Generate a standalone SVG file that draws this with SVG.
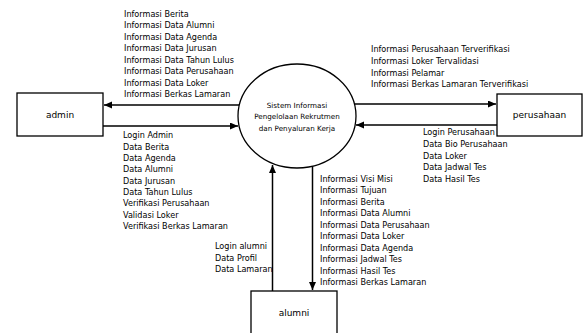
<svg xmlns="http://www.w3.org/2000/svg" width="583" height="333" viewBox="0 0 583 333">
<style>
.box{fill:#fff;stroke:#000;stroke-width:1.3}
.lbl{font-family:"DejaVu Sans",Verdana,sans-serif;font-size:8.1px;fill:#000}
.ctr{font-family:"DejaVu Sans",Verdana,sans-serif;font-size:9px;fill:#000;text-anchor:middle}
.proc{font-family:"DejaVu Sans",Verdana,sans-serif;font-size:7.2px;fill:#000;text-anchor:middle}
.edge{fill:none;stroke:#000;stroke-width:1.5}
</style>
<defs>
<marker id="arr" markerUnits="userSpaceOnUse" markerWidth="9" markerHeight="8" refX="8" refY="3.5" orient="auto">
<path d="M0,0 L8,3.5 L0,7 z" fill="#000"/>
</marker>
</defs>
<rect width="583" height="333" fill="#fff"/>
<g id="connectors">
<path class="edge" d="M239,105 L104,105" marker-end="url(#arr)"/>
<path class="edge" d="M103,126 L238,126" marker-end="url(#arr)"/>
<path class="edge" d="M355,104 L496,104" marker-end="url(#arr)"/>
<path class="edge" d="M497,125 L356,125" marker-end="url(#arr)"/>
<path class="edge" d="M272.5,291 L272.5,165" marker-end="url(#arr)"/>
<path class="edge" d="M312.5,166 L312.5,290" marker-end="url(#arr)"/>
</g>
<g id="labels">
<text class="lbl" x="124" y="16.8">
<tspan x="124" dy="0">Informasi Berita</tspan>
<tspan x="124" dy="11.5">Informasi Data Alumni</tspan>
<tspan x="124" dy="11.5">Informasi Data Agenda</tspan>
<tspan x="124" dy="11.5">Informasi Data Jurusan</tspan>
<tspan x="124" dy="11.5">Informasi Data Tahun Lulus</tspan>
<tspan x="124" dy="11.5">Informasi Data Perusahaan</tspan>
<tspan x="124" dy="11.5">Informasi Data Loker</tspan>
<tspan x="124" dy="11.5">Informasi Berkas Lamaran</tspan>
</text>
<text class="lbl" x="123" y="138.3">
<tspan x="123" dy="0">Login Admin</tspan>
<tspan x="123" dy="11.35">Data Berita</tspan>
<tspan x="123" dy="11.35">Data Agenda</tspan>
<tspan x="123" dy="11.35">Data Alumni</tspan>
<tspan x="123" dy="11.35">Data Jurusan</tspan>
<tspan x="123" dy="11.35">Data Tahun Lulus</tspan>
<tspan x="123" dy="11.35">Verifikasi Perusahaan</tspan>
<tspan x="123" dy="11.35">Validasi Loker</tspan>
<tspan x="123" dy="11.35">Verifikasi Berkas Lamaran</tspan>
</text>
<text class="lbl" x="371" y="52.3">
<tspan x="371" dy="0">Informasi Perusahaan Terverifikasi</tspan>
<tspan x="371" dy="11.67">Informasi Loker Tervalidasi</tspan>
<tspan x="371" dy="11.67">Informasi Pelamar</tspan>
<tspan x="371" dy="11.67">Informasi Berkas Lamaran Terverifikasi</tspan>
</text>
<text class="lbl" x="423" y="135.3">
<tspan x="423" dy="0">Login Perusahaan</tspan>
<tspan x="423" dy="11.67">Data Bio Perusahaan</tspan>
<tspan x="423" dy="11.67">Data Loker</tspan>
<tspan x="423" dy="11.67">Data Jadwal Tes</tspan>
<tspan x="423" dy="11.67">Data Hasil Tes</tspan>
</text>
<text class="lbl" x="320" y="181.7">
<tspan x="320" dy="0">Informasi Visi Misi</tspan>
<tspan x="320" dy="11.48">Informasi Tujuan</tspan>
<tspan x="320" dy="11.48">Informasi Berita</tspan>
<tspan x="320" dy="11.48">Informasi Data Alumni</tspan>
<tspan x="320" dy="11.48">Informasi Data Perusahaan</tspan>
<tspan x="320" dy="11.48">Informasi Data Loker</tspan>
<tspan x="320" dy="11.48">Informasi Data Agenda</tspan>
<tspan x="320" dy="11.48">Informasi Jadwal Tes</tspan>
<tspan x="320" dy="11.48">Informasi Hasil Tes</tspan>
<tspan x="320" dy="11.48">Informasi Berkas Lamaran</tspan>
</text>
<text class="lbl" x="215" y="249.3">
<tspan x="215" dy="0">Login alumni</tspan>
<tspan x="215" dy="11.5">Data Profil</tspan>
<tspan x="215" dy="11.5">Data Lamaran</tspan>
</text>
</g>
<g id="process">
<ellipse class="box" cx="297" cy="116" rx="59" ry="52"/>
<text class="proc" x="297" y="107.5">Sistem Informasi</text>
<text class="proc" x="297" y="119">Pengelolaan Rekrutmen</text>
<text class="proc" x="297" y="130.5">dan Penyaluran Kerja</text>
</g>
<g id="admin">
<rect class="box" x="17" y="93" width="86" height="43"/>
<text class="ctr" x="60" y="118">admin</text>
</g>
<g id="perusahaan">
<rect class="box" x="497" y="94" width="85" height="42"/>
<text class="ctr" x="539.5" y="118">perusahaan</text>
</g>
<g id="alumni">
<rect class="box" x="251" y="291" width="86" height="45"/>
<text class="ctr" x="294" y="316">alumni</text>
</g>
</svg>
